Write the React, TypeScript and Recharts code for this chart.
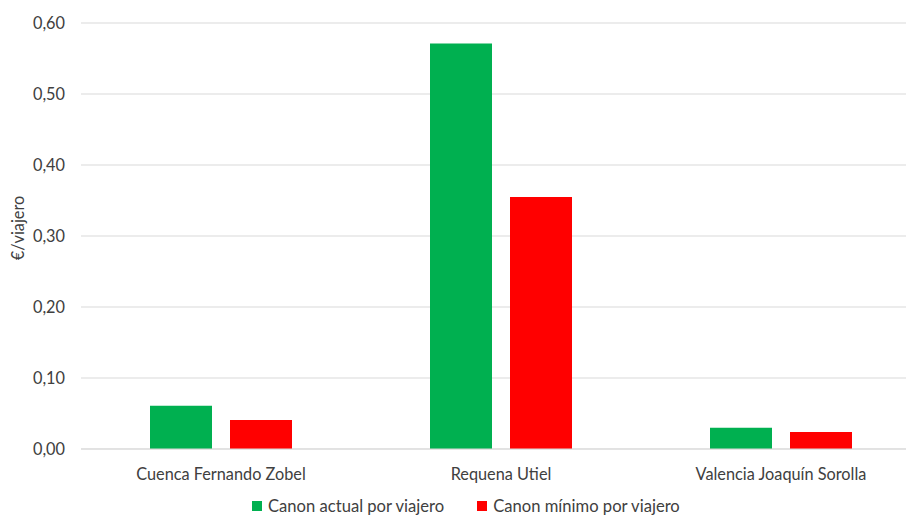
import React from "react";
import { BarChart, Bar, XAxis, YAxis, CartesianGrid } from "recharts";

const categories = ["Cuenca Fernando Zobel", "Requena Utiel", "Valencia Joaquín Sorolla"];
const canonActual = [0.061, 0.571, 0.03];
const canonMinimo = [0.041, 0.355, 0.024];
const yTicks = [0, 0.1, 0.2, 0.3, 0.4, 0.5, 0.6];
const seriesNames = ["Canon actual por viajero", "Canon mínimo por viajero"];
const colors = ["#00B050", "#FF0000"];

const data = categories.map((c, i) => ({ name: c, actual: canonActual[i], minimo: canonMinimo[i] }));

const FONT = "Lato, 'Open Sans', sans-serif";

export default function App() {
  return (
    <div style={{ position: "relative", width: 930, height: 517, fontFamily: FONT }}>
      <style>{`body{margin:0;overflow:hidden;}`}</style>
      <BarChart
        width={930}
        height={517}
        data={data}
        margin={{ top: 23, right: 9, left: 0, bottom: 38 }}
        barSize={62}
        barGap={18}
      >
        <CartesianGrid vertical={false} stroke="#D9D9D9" strokeWidth={1} />
        <XAxis
          dataKey="name"
          axisLine={{ stroke: "#D9D9D9" }}
          tickLine={false}
          tickMargin={13}
          height={30}
          tick={{ fill: "#404040", fontSize: 16.3, fontFamily: FONT }}
        />
        <YAxis
          width={81}
          domain={[0, 0.6]}
          ticks={yTicks}
          axisLine={false}
          tickLine={false}
          tickMargin={10}
          tickFormatter={(v: number) => v.toFixed(2).replace(".", ",")}
          tick={{ fill: "#404040", fontSize: 16.3, fontFamily: FONT }}
          label={{
            value: "€/viajero",
            angle: -90,
            position: "insideLeft",
            dx: 13,
            dy: -8,
            style: { fill: "#404040", fontSize: 16.3, fontFamily: FONT, textAnchor: "middle" },
          }}
        />
        <Bar dataKey="actual" name={seriesNames[0]} fill={colors[0]} isAnimationActive={false} />
        <Bar dataKey="minimo" name={seriesNames[1]} fill={colors[1]} isAnimationActive={false} />
      </BarChart>
      <div
        style={{
          position: "absolute",
          top: 496,
          left: 252,
          display: "flex",
          alignItems: "center",
          fontSize: 16.6,
          lineHeight: "20px",
          color: "#404040",
          whiteSpace: "nowrap",
        }}
      >
        {seriesNames.map((n, i) => (
          <div key={n} style={{ display: "flex", alignItems: "center", marginRight: i === 0 ? 33 : 0 }}>
            <span style={{ display: "inline-block", width: 10, height: 10, background: colors[i], marginRight: 6 }} />
            <span>{n}</span>
          </div>
        ))}
      </div>
    </div>
  );
}
